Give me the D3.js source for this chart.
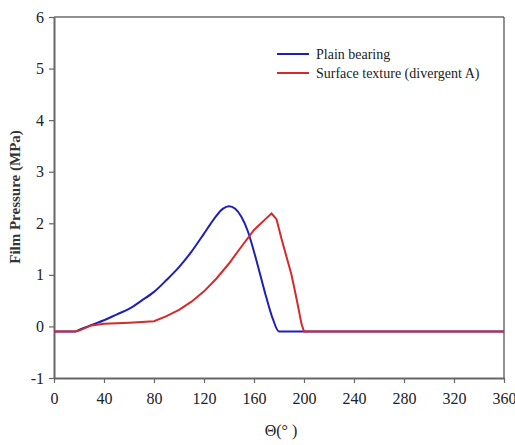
<!DOCTYPE html>
<html><head><meta charset="utf-8">
<script src="https://cdn.jsdelivr.net/npm/d3@7"></script>
<style>body{margin:0;background:#fff}svg{display:block}text{font-family:"Liberation Serif","Times New Roman",serif}</style>
</head><body><svg id="c" width="515" height="445"></svg>
<script>
const xTicks=[0,40,80,120,160,200,240,280,320,360];
const yTicks=[-1,0,1,2,3,4,5,6];
const plainTheta=[0,17,20,30,40,50,60,70,80,90,100,110,120,125,130,135,140,145,150,155,160,165,170,175,180,360];
const plainP=[-0.1,-0.1,-0.07,0.03,0.12,0.23,0.34,0.5,0.67,0.9,1.15,1.45,1.8,1.98,2.15,2.28,2.33,2.28,2.12,1.85,1.45,1.0,0.55,0.15,-0.1,-0.1];
const texTheta=[0,17,20,30,40,60,80,90,100,110,120,130,140,150,160,170,174,178,182,186,190,194,198,200,360];
const texP=[-0.1,-0.1,-0.08,0.02,0.05,0.07,0.1,0.2,0.32,0.48,0.68,0.93,1.22,1.55,1.87,2.1,2.19,2.08,1.7,1.35,1.0,0.54,0.05,-0.1,-0.1];
const seriesNames=["Plain bearing","Surface texture (divergent A)"];
const colors=["#1f1fb4","#d42a2a"];

const svg=d3.select("#c");
const L=54,R=504,T=17,B=378;
const x=d3.scaleLinear().domain([0,360]).range([L,R]);
const y=d3.scaleLinear().domain([-1,6]).range([B,T]);

svg.append("line").attr("x1",L).attr("x2",R).attr("y1",T).attr("y2",T).attr("stroke","#222").attr("stroke-width",1);
svg.append("line").attr("x1",R).attr("x2",R).attr("y1",T).attr("y2",B).attr("stroke","#222").attr("stroke-width",1);

const xa=svg.append("g").attr("transform",`translate(0,${B})`).call(d3.axisBottom(x).tickValues(xTicks).tickFormat(d=>String(d)).tickSize(5).tickSizeOuter(0).tickPadding(10));
const ya=svg.append("g").attr("transform",`translate(${L},0)`).call(d3.axisLeft(y).tickValues(yTicks).tickFormat(d=>String(d)).tickSize(5).tickSizeOuter(0).tickPadding(5));
[xa,ya].forEach(a=>{a.select(".domain").attr("stroke","#666").attr("stroke-width",2);a.selectAll(".tick line").attr("stroke","#666").attr("stroke-width",1.2);a.selectAll("text").attr("font-size",16).attr("fill","#222").attr("font-family","Liberation Serif, serif");});

const s1=plainTheta.map((t,i)=>[t,plainP[i]]);
const s2=texTheta.map((t,i)=>[t,texP[i]]);
svg.append("path").datum(s1).attr("d",d3.line().x(d=>x(d[0])).y(d=>y(d[1])).curve(d3.curveMonotoneX)).attr("fill","none").attr("stroke",colors[0]).attr("stroke-width",2);
svg.append("path").datum(s2).attr("d",d3.line().x(d=>x(d[0])).y(d=>y(d[1]))).attr("fill","none").attr("stroke",colors[1]).attr("stroke-width",2);

seriesNames.forEach((n,i)=>{
  const yy=54+i*19;
  svg.append("line").attr("x1",277).attr("x2",309).attr("y1",yy).attr("y2",yy).attr("stroke",colors[i]).attr("stroke-width",2);
  svg.append("text").attr("x",316).attr("y",yy+4.5).attr("font-size",14).attr("fill","#222").text(n);
});

svg.append("text").attr("transform","translate(20,197) rotate(-90)").attr("text-anchor","middle").attr("font-size",15).attr("font-weight","bold").attr("fill","#333").text("Film Pressure (MPa)");
svg.append("text").attr("x",281).attr("y",436).attr("text-anchor","middle").attr("font-size",16).attr("fill","#222").text("Θ(° )");
</script></body></html>
